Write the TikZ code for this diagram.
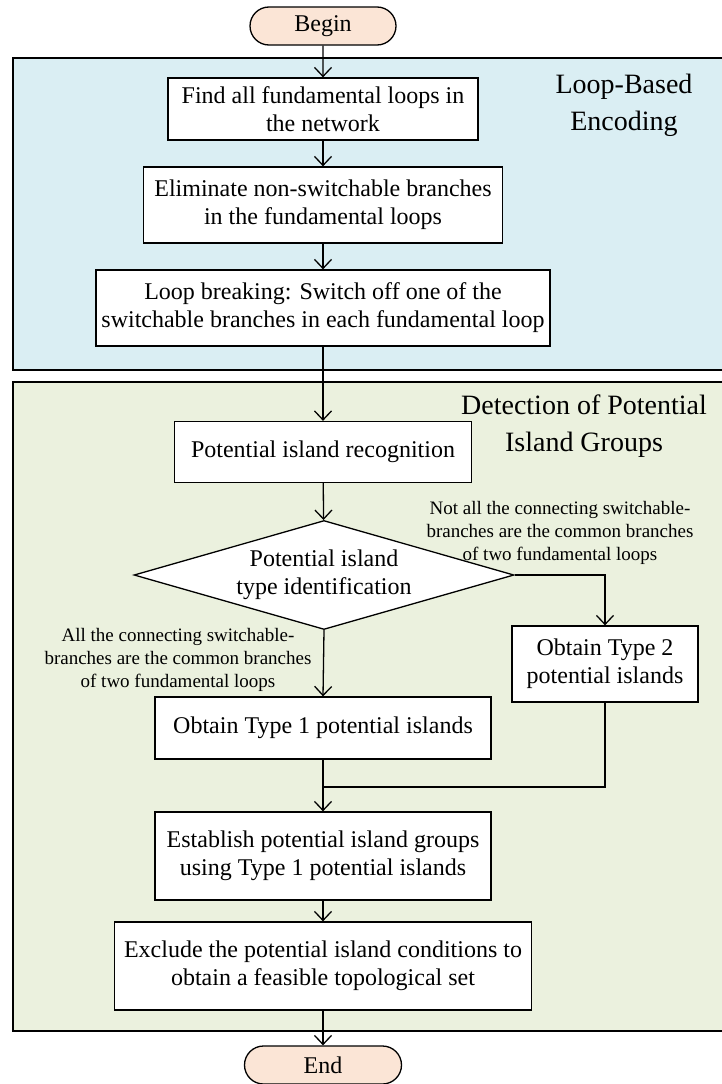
\documentclass[tikz,border=0pt]{standalone}
\usepackage{fontspec}
\setmainfont{Liberation Serif}
\usepackage{tikz}
\usetikzlibrary{arrows.meta, shapes.geometric, shapes.misc}
\usepackage{xcolor}
\definecolor{loopBG}{RGB}{218, 238, 243}
\definecolor{islandBG}{RGB}{235, 241, 222}
\definecolor{termBG}{RGB}{251, 229, 214}

\begin{document}
\begin{tikzpicture}[x=1pt, y=-1pt,
    proc/.style={draw, fill=white, line width=1.3pt, align=center, inner sep=0pt,
      font=\fontsize{24}{28}\selectfont},
    term/.style={draw, fill=termBG, rounded rectangle, line width=1.3pt, inner sep=0pt,
      minimum height=38pt, font=\fontsize{24}{28}\selectfont},
    flow/.style={line width=1.3pt, -{Straight Barb[length=9pt, width=17pt]}},
    cond/.style={align=center, font=\fontsize{19}{23}\selectfont},
    stage/.style={align=center, font=\fontsize{28}{37}\selectfont}]
  \useasboundingbox (0,0) rectangle (721,1084);
  % Stage panels
  \draw[fill=loopBG, line width=1.3pt] (13,58) rectangle (730,370);
  \draw[fill=islandBG, line width=1.3pt] (13,382) rectangle (730,1031);
  \node[stage] (loopTitle) at (624,105) {Loop-Based\\Encoding};
  \node[stage] (islandTitle) at (584,426) {Detection of Potential\\Island Groups};

  \node[term, minimum width=146pt] (begin) at (323,26) {Begin};
  \node[proc, minimum width=310pt, minimum height=62pt] (findLoops) at (323,109)
    {Find all fundamental loops in\\the network};
  \node[proc, minimum width=359pt, minimum height=76pt] (elimBr) at (323,205)
    {Eliminate non-switchable branches\\in the fundamental loops};
  \node[proc, minimum width=454pt, minimum height=76pt] (breakLoop) at (323,308)
    {Loop breaking: Switch off one of the\\switchable branches in each fundamental loop};
  \node[proc, minimum width=297pt, minimum height=61pt] (recog) at (323,452)
    {Potential island recognition};
  \node[proc, diamond, aspect=3.5, minimum width=380pt, minimum height=109pt] (ident) at (324,575)
    {Potential island\\type identification};
  \node[proc, minimum width=186pt, minimum height=76pt] (typeTwo) at (605,664)
    {Obtain Type 2\\potential islands};
  \node[proc, minimum width=336pt, minimum height=62pt] (typeOne) at (323,728)
    {Obtain Type 1 potential islands};
  \node[proc, minimum width=336pt, minimum height=88pt] (groups) at (323,856)
    {Establish potential island groups\\using Type 1 potential islands};
  \node[proc, minimum width=417pt, minimum height=88pt] (exclude) at (323,966)
    {Exclude the potential island conditions to\\obtain a feasible topological set};
  \node[term, minimum width=157pt] (finish) at (323,1065) {End};
  \coordinate (merge) at (323,787);

  % Branch conditions
  \node[cond] (notAll) at (560,533)
    {Not all the connecting switchable-\\branches are the common branches\\of two fundamental loops};
  \node[cond] (allCommon) at (178,660)
    {All the connecting switchable-\\branches are the common branches\\of two fundamental loops};

  \draw[flow] (begin) -- (findLoops);
  \draw[flow] (findLoops) -- (elimBr);
  \draw[flow] (elimBr) -- (breakLoop);
  \draw[flow] (breakLoop) -- (recog);
  \draw[flow] (recog) -- (ident);
  \draw[flow] (ident.east) -| (typeTwo.north);
  \draw[flow] (ident.south) -- (typeOne.north);
  \draw[line width=1.3pt] (typeTwo.south) |- (merge);
  \draw[flow] (typeOne.south) -- (groups.north);
  \draw[flow] (groups) -- (exclude);
  \draw[flow] (exclude) -- (finish);
\end{tikzpicture}
\end{document}
